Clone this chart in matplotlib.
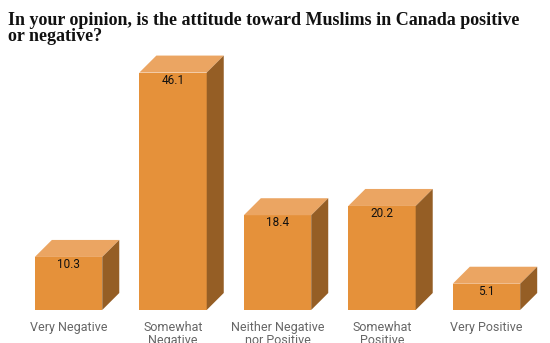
import numpy as np
import matplotlib.pyplot as plt
from matplotlib.patches import Polygon

categories = ["Very Negative", "Somewhat\nNegative", "Neither Negative\nnor Positive",
              "Somewhat\nPositive", "Very Positive"]
values = [10.3, 46.1, 18.4, 20.2, 5.1]

front = "#E5913A"
top = "#EBA562"
side = "#955E25"

fig = plt.figure(figsize=(5.5, 3.43), dpi=100)
ax = fig.add_axes([0, 0, 1, 1])
ax.set_xlim(-0.656, 4.608)
ax.set_ylim(-6.41, 60.19)
ax.axis("off")

width = 0.645
dx, dy = 0.163, 3.3
x = np.arange(len(values))

ax.bar(x, values, width=width, color=front, linewidth=0)
for xi, v in zip(x, values):
    l, r = xi - width / 2, xi + width / 2
    ax.add_patch(Polygon([(l, v), (r, v), (r + dx, v + dy), (l + dx, v + dy)],
                         closed=True, facecolor=top, edgecolor="none"))
    ax.add_patch(Polygon([(r, 0), (r + dx, dy), (r + dx, v + dy), (r, v)],
                         closed=True, facecolor=side, edgecolor="none"))
    ax.text(xi, v - 1.5, f"{v}", ha="center", va="center", fontsize=8.5,
            family="Roboto", color="#111111")

for xi, c in zip(x, categories):
    ax.text(xi, -2.2, c, ha="center", va="top", fontsize=9, family="Roboto",
            color="#666666", linespacing=0.95)

fig.text(0.015, 0.965, "In your opinion, is the attitude toward Muslims in Canada positive\nor negative?",
         ha="left", va="top", fontsize=13, family="Liberation Serif", weight="bold",
         color="#111111", linespacing=0.92)

plt.savefig("out.png", dpi=100)
